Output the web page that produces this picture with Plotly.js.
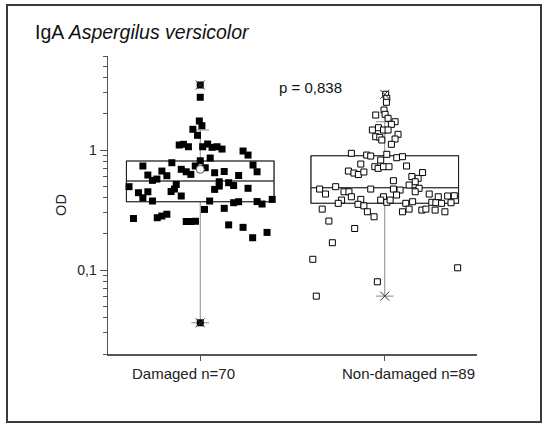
<!DOCTYPE html>
<html>
<head>
<meta charset="utf-8">
<script src="https://cdn.plot.ly/plotly-3.0.1.min.js"></script>
<style>
  html, body { margin: 0; padding: 0; background: #fff; }
  #wrap { position: relative; width: 545px; height: 424px; }
  #chart { width: 545px; height: 424px; }
  #frame { position: absolute; left: 6px; top: 4px; width: 532px; height: 415px;
           border: 2px solid #3a3a3a; pointer-events: none; }
</style>
</head>
<body>
<div id="wrap">
  <div id="chart"></div>
  <div id="frame"></div>
</div>
<script>
// IgA optical density against Aspergilus versicolor, two patient groups
const groups = ["Damaged n=70", "Non-damaged n=89"];
const groupPos = [1, 2];

// individual measurements (jittered position within group, OD)
const damagedX = [1.000, 1.000, 0.995, 1.009, 0.960, 0.985, 0.886, 0.909, 0.936, 1.013,
  1.040, 1.064, 1.091, 1.118, 1.232, 1.259, 1.054, 1.000, 0.846, 0.689,
  1.286, 1.308, 0.973, 1.027, 0.897, 0.924, 0.949, 0.792, 0.819, 0.716,
  0.741, 0.765, 1.078, 1.130, 1.208, 1.103, 1.154, 1.181, 1.103, 1.078,
  1.259, 0.870, 0.860, 0.842, 0.614, 0.665, 0.716, 0.689, 0.741, 0.897,
  1.051, 1.181, 1.208, 1.308, 1.335, 1.390, 1.023, 1.130, 0.638, 0.767,
  0.792, 0.819, 0.924, 0.949, 0.974, 1.154, 1.232, 1.284, 1.362, 1.000];
const damagedOD = [3.48, 2.75, 1.745, 1.594, 1.488, 1.326, 1.101, 1.116, 1.065, 1.065,
  1.122, 1.053, 1.065, 1.019, 0.981, 0.908, 0.858, 0.814, 0.784, 0.736,
  0.750, 0.659, 0.736, 0.712, 0.691, 0.659, 0.627, 0.668, 0.611, 0.619,
  0.559, 0.573, 0.647, 0.662, 0.613, 0.544, 0.534, 0.506, 0.501, 0.470,
  0.480, 0.516, 0.473, 0.451, 0.495, 0.441, 0.449, 0.400, 0.376, 0.414,
  0.376, 0.364, 0.371, 0.372, 0.355, 0.388, 0.320, 0.327, 0.269, 0.273,
  0.282, 0.292, 0.254, 0.254, 0.255, 0.238, 0.227, 0.186, 0.206, 0.0364];

const nonDamagedX = [2.005, 2.011, 2.009, 1.996, 1.951, 2.002, 2.018, 2.056, 2.036, 1.966,
  1.933, 1.993, 2.018, 1.951, 1.973, 2.072, 2.056, 1.984, 2.036, 1.819,
  1.902, 1.924, 2.011, 2.065, 2.096, 1.978, 1.870, 2.118, 1.946, 1.964,
  1.993, 2.023, 1.803, 1.833, 1.857, 1.887, 2.147, 2.181, 2.205, 2.047,
  2.165, 2.186, 2.165, 2.132, 1.647, 1.734, 1.679, 1.779, 1.806, 1.819,
  1.924, 2.047, 2.083, 2.064, 2.241, 2.290, 2.341, 2.377, 1.993, 1.978,
  2.011, 2.029, 1.870, 1.855, 1.887, 1.766, 1.748, 2.114, 2.151, 2.255,
  2.277, 2.308, 2.359, 1.906, 1.942, 1.661, 2.132, 2.096, 2.201, 2.223,
  2.273, 2.326, 1.697, 1.837, 1.716, 1.610, 2.395, 1.960, 1.629];
const nonDamagedOD = [2.912, 2.697, 2.498, 2.154, 1.957, 1.984, 1.837, 1.721, 1.637, 1.534,
  1.468, 1.468, 1.468, 1.291, 1.276, 1.351, 1.235, 1.212, 1.116, 0.939,
  0.908, 0.891, 0.921, 0.863, 0.880, 0.825, 0.764, 0.736, 0.726, 0.704,
  0.726, 0.726, 0.668, 0.643, 0.625, 0.656, 0.601, 0.581, 0.649, 0.555,
  0.544, 0.480, 0.449, 0.511, 0.473, 0.495, 0.430, 0.449, 0.449, 0.408,
  0.473, 0.473, 0.464, 0.422, 0.430, 0.408, 0.414, 0.416, 0.408, 0.383,
  0.367, 0.383, 0.388, 0.353, 0.343, 0.383, 0.360, 0.360, 0.371, 0.367,
  0.364, 0.360, 0.364, 0.306, 0.278, 0.322, 0.322, 0.306, 0.316, 0.322,
  0.316, 0.306, 0.256, 0.222, 0.169, 0.123, 0.1045, 0.0799, 0.0607];

// summary statistics per group
const q1 = [0.371, 0.360];
const median = [0.552, 0.485];
const q3 = [0.810, 0.896];
const whiskerLow = [0.0364, 0.0607];
const whiskerHigh = [1.47, 1.72];
const minOD = [0.0364, 0.0607];
const maxOD = [3.48, 2.91];
const meanOD = [0.69];
const pText = "p = 0,838";

const FONT = "Liberation Sans, Arial, Helvetica, sans-serif";

const traces = [
  // whiskers (grey) — the box itself is redrawn in black on top
  {
    type: "box", x: groupPos, q1: q1, median: median, q3: q3,
    lowerfence: whiskerLow, upperfence: whiskerHigh,
    width: 0.8, whiskerwidth: 0.12, boxpoints: false,
    fillcolor: "rgba(0,0,0,0)", line: { color: "#8a8a8a", width: 1 },
    hoverinfo: "skip", showlegend: false
  },
  {
    type: "box", x: groupPos, q1: q1, median: median, q3: q3,
    lowerfence: q1, upperfence: q3,
    width: 0.8, whiskerwidth: 0, boxpoints: false,
    fillcolor: "rgba(0,0,0,0)", line: { color: "#1e1e1e", width: 1.1 },
    hoverinfo: "skip", showlegend: false
  },
  {
    type: "scatter", mode: "markers", x: damagedX, y: damagedOD,
    marker: { symbol: "square", size: 7, color: "#000" },
    showlegend: false, hoverinfo: "y"
  },
  {
    type: "scatter", mode: "markers", x: nonDamagedX, y: nonDamagedOD,
    marker: { symbol: "square", size: 6, color: "#fff", line: { color: "#000", width: 1 } },
    showlegend: false, hoverinfo: "y"
  },
  {
    type: "scatter", mode: "markers", x: groupPos.concat(groupPos), y: minOD.concat(maxOD),
    marker: { symbol: "x-thin", size: 9, line: { color: "#333", width: 1 } },
    showlegend: false, hoverinfo: "skip"
  },
  {
    type: "scatter", mode: "markers", x: groupPos.slice(0, meanOD.length), y: meanOD,
    marker: { symbol: "circle", size: 8, color: "#fff", line: { color: "#555", width: 1 } },
    showlegend: false, hoverinfo: "y"
  }
];

const layout = {
  width: 545, height: 424,
  margin: { l: 108, r: 68, t: 56, b: 70 },
  paper_bgcolor: "#fff", plot_bgcolor: "#fff",
  separators: ",.",
  boxmode: "overlay",
  showlegend: false,
  font: { family: FONT, size: 14, color: "#222" },
  title: {
    text: "IgA <i>Aspergilus versicolor</i>",
    x: 35 / 545, xanchor: "left", xref: "container",
    y: 1 - 32 / 424, yanchor: "middle", yref: "container",
    font: { family: FONT, size: 19.5, color: "#111" }
  },
  xaxis: {
    range: [0.5, 2.5], showgrid: false, zeroline: false,
    showline: true, linecolor: "#555", linewidth: 1.5,
    tickvals: groupPos, ticktext: ["", ""],
    ticks: "outside", ticklen: 5, tickwidth: 1, tickcolor: "#555",
    fixedrange: true
  },
  yaxis: {
    type: "log", range: [Math.log10(0.02), Math.log10(6.07)],
    showgrid: false, zeroline: false,
    showline: true, linecolor: "#555", linewidth: 1.5,
    dtick: 1, tick0: 0,
    ticks: "outside", ticklen: 7, tickwidth: 1, tickcolor: "#555",
    minor: { ticks: "outside", ticklen: 4, tickwidth: 1, tickcolor: "#555", dtick: "D1", showgrid: false },
    tickfont: { size: 14, color: "#222" },
    title: { text: "OD", standoff: 7, font: { size: 14.5, color: "#222" } },
    fixedrange: true
  },
  annotations: [
    { text: pText, x: 1.598, y: Math.log10(3.29), xref: "x", yref: "y",
      showarrow: false, xanchor: "center", yanchor: "middle",
      font: { family: FONT, size: 15, color: "#111" } },
    { text: groups[0], x: 0.910, y: -0.065, xref: "x", yref: "paper",
      showarrow: false, xanchor: "center", yanchor: "middle",
      font: { family: FONT, size: 15, color: "#222" } },
    { text: groups[1], x: 2.128, y: -0.065, xref: "x", yref: "paper",
      showarrow: false, xanchor: "center", yanchor: "middle",
      font: { family: FONT, size: 15, color: "#222" } }
  ]
};

Plotly.newPlot("chart", traces, layout, { displayModeBar: false, staticPlot: true });
</script>
</body>
</html>
